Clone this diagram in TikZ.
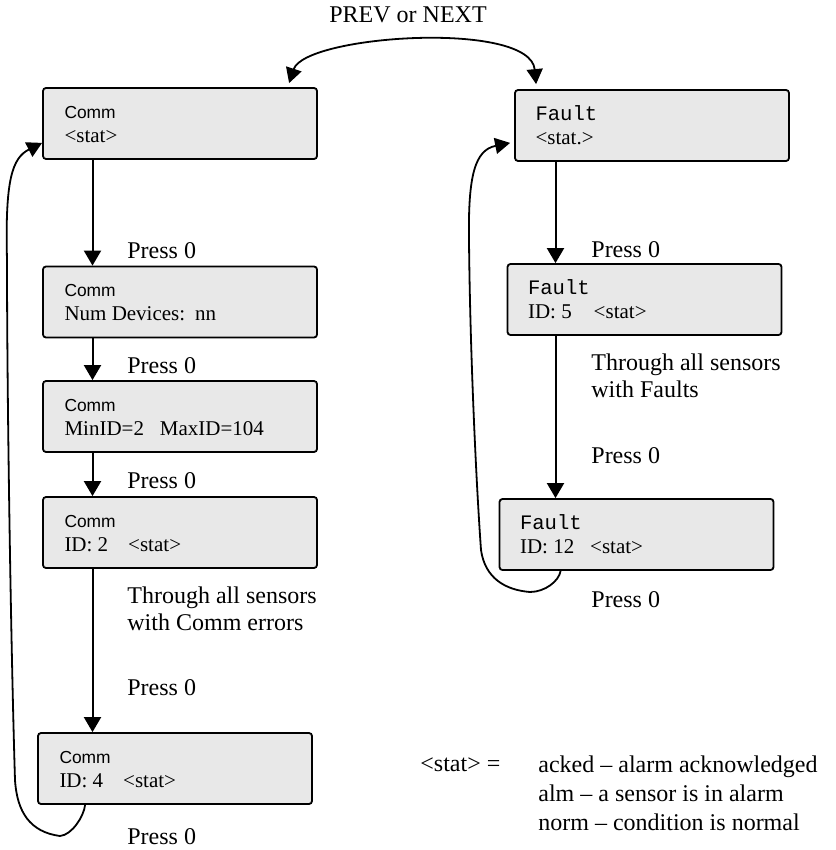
\documentclass[tikz,border=0pt]{standalone}
\usepackage{fontspec}
\setmainfont{Liberation Serif}
\newfontfamily\commfont{Liberation Sans}
\newfontfamily\faultfont{Liberation Mono}
\usepackage{tikz}
\usetikzlibrary{arrows.meta, calc}
\definecolor{panelgray}{HTML}{E8E8E8}
\newcommand{\commhead}{{\commfont\fontsize{8.7}{12}\selectfont Comm}}
\newcommand{\faulthead}{{\faultfont\fontsize{10.3}{12}\selectfont Fault}}

\begin{document}
\begin{tikzpicture}[
    x=0.5pt, y=-0.5pt,
    panel/.style={draw, line width=0.9pt, rounded corners=1.5pt, fill=panelgray,
        minimum width=137pt, minimum height=35.5pt, inner sep=0pt},
    paneltext/.style={anchor=base west, align=left, inner sep=0pt,
        font=\fontsize{10.5}{12}\selectfont},
    presslabel/.style={anchor=base west, align=left, inner sep=0pt,
        font=\fontsize{12}{13.5}\selectfont},
    flow/.style={-{Triangle[length=7.5pt,width=8.5pt]}, line width=1pt},
    backflow/.style={-{Triangle[length=7.5pt,width=8pt]}, line width=0.9pt},
    bothways/.style={{Triangle[length=7.5pt,width=8pt]}-{Triangle[length=7.5pt,width=8pt]}, line width=0.9pt}
]
    \useasboundingbox (0,0) rectangle (835,850);

    % Define nodes
    \node[panel] (comm0) at (180,123.5) {};
    \node[panel] (comm1) at (180,302) {};
    \node[panel] (comm2) at (180,416.5) {};
    \node[panel] (comm3) at (180,532.5) {};
    \node[panel] (comm4) at (175,768.5) {};
    \node[panel] (fault0) at (652,125.5) {};
    \node[panel] (fault1) at (644.5,299.5) {};
    \node[panel] (fault2) at (636.5,534.5) {};

    % Panel texts (anchored on the last line)
    \node[paneltext] (comm0txt) at ([shift={(22,55)}]comm0.north west) {\commhead\\<stat>};
    \node[paneltext] (comm1txt) at ([shift={(22,55)}]comm1.north west) {\commhead\\Num Devices:\hspace{5pt}nn};
    \node[paneltext] (comm2txt) at ([shift={(22,55)}]comm2.north west) {\commhead\\MinID=2\hspace{8pt}MaxID=104};
    \node[paneltext] (comm3txt) at ([shift={(22,55)}]comm3.north west) {\commhead\\ID: 2\hspace{10pt}<stat>};
    \node[paneltext] (comm4txt) at ([shift={(22,55)}]comm4.north west) {\commhead\\ID: 4\hspace{10pt}<stat>};
    \node[paneltext] (fault0txt) at ([shift={(21,55)}]fault0.north west) {\faulthead\\<stat.>};
    \node[paneltext] (fault1txt) at ([shift={(21,55)}]fault1.north west) {\faulthead\\ID: 5\hspace{11pt}<stat>};
    \node[paneltext] (fault2txt) at ([shift={(21,55)}]fault2.north west) {\faulthead\\ID: 12\hspace{8pt}<stat>};

    % Labels
    \node[presslabel, anchor=base] (prevnext) at (408,23) {PREV or NEXT};
    \node[presslabel] (press1) at (127,258) {Press 0};
    \node[presslabel] (press2) at (127,373) {Press 0};
    \node[presslabel] (press3) at (127,488) {Press 0};
    \node[presslabel] (commall) at (127,630) {Through all sensors\\with Comm errors};
    \node[presslabel] (press4) at (127,695) {Press 0};
    \node[presslabel] (press5) at (127,844) {Press 0};
    \node[presslabel] (fpress1) at (591,257) {Press 0};
    \node[presslabel] (faultall) at (591,397) {Through all sensors\\with Faults};
    \node[presslabel] (fpress2) at (591,463) {Press 0};
    \node[presslabel] (fpress3) at (591,607) {Press 0};
    \node[presslabel] (statkey) at (420,771) {<stat> =};
    \node[presslabel, font=\fontsize{12}{14.5}\selectfont] (statlist) at (538,830)
        {acked – alarm acknowledged\\alm – a sensor is in alarm\\norm – condition is normal};

    % Transitions
    \coordinate (lcol) at (92.5,0);
    \coordinate (rcol) at (555.5,0);
    \draw[flow] (lcol |- comm0.south) -- (lcol |- comm1.north);
    \draw[flow] (lcol |- comm1.south) -- (lcol |- comm2.north);
    \draw[flow] (lcol |- comm2.south) -- (lcol |- comm3.north);
    \draw[flow] (lcol |- comm3.south) -- (lcol |- comm4.north);
    \draw[flow] (rcol |- fault0.south) -- (rcol |- fault1.north);
    \draw[flow] (rcol |- fault1.south) -- (rcol |- fault2.north);

    \draw[backflow] ([shift={(48,0)}]comm4.south west)
        .. controls (84,816) and (72,835) .. (60,836)
        .. controls (30,832) and (17,812) .. (15,780)
        .. controls (11,650) and (7,400) .. (7,260)
        .. controls (5,180) and (12,158) .. ([shift={(0,-17)}]comm0.south west);
    \draw[backflow] ([shift={(62,0)}]fault2.south west)
        .. controls (559,581) and (545,592) .. (530,592)
        .. controls (505,590) and (485,578) .. (481,550)
        .. controls (476,480) and (470,350) .. (469,240)
        .. controls (468,175) and (475,150) .. ([shift={(-4,-19)}]fault0.south west);

    \draw[bothways] ([shift={(247,-4)}]comm0.north west)
        .. controls (305,35) and (530,20) .. ([shift={(22,-5)}]fault0.north west);
\end{tikzpicture}
\end{document}
